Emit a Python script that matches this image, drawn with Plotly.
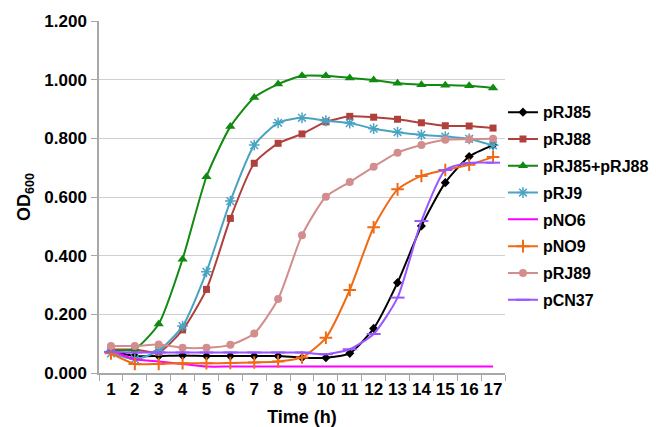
import plotly.graph_objects as go

hours = [str(h) for h in range(1, 18)]

pRJ85 = [0.076, 0.058, 0.058, 0.060, 0.058, 0.058, 0.058, 0.058, 0.052, 0.052, 0.067, 0.152, 0.308, 0.501, 0.649, 0.738, 0.777]
pRJ88 = [0.080, 0.080, 0.070, 0.147, 0.285, 0.527, 0.715, 0.783, 0.815, 0.856, 0.875, 0.872, 0.865, 0.853, 0.843, 0.842, 0.835]
pRJ85_pRJ88 = [0.076, 0.082, 0.167, 0.388, 0.669, 0.840, 0.939, 0.985, 1.013, 1.013, 1.006, 0.999, 0.988, 0.983, 0.981, 0.979, 0.972]
pRJ9 = [0.067, 0.047, 0.076, 0.160, 0.345, 0.586, 0.777, 0.853, 0.870, 0.860, 0.852, 0.833, 0.821, 0.812, 0.806, 0.798, 0.776]
pNO6 = [0.076, 0.047, 0.039, 0.031, 0.022, 0.022, 0.022, 0.022, 0.022, 0.022, 0.022, 0.022, 0.022, 0.022, 0.022, 0.022, 0.022]
pNO9 = [0.067, 0.031, 0.031, 0.033, 0.033, 0.034, 0.036, 0.039, 0.053, 0.120, 0.283, 0.497, 0.626, 0.672, 0.692, 0.710, 0.736]
pRJ89 = [0.092, 0.092, 0.097, 0.086, 0.086, 0.096, 0.135, 0.252, 0.470, 0.601, 0.651, 0.703, 0.751, 0.777, 0.795, 0.797, 0.799]
pCN37 = [0.072, 0.070, 0.070, 0.070, 0.070, 0.070, 0.070, 0.070, 0.070, 0.064, 0.081, 0.133, 0.257, 0.518, 0.692, 0.716, 0.717]

y_ticks = [0.0, 0.2, 0.4, 0.6, 0.8, 1.0, 1.2]

series = [
    ("pRJ85", pRJ85, "#000000", "diamond", 7, 0),
    ("pRJ88", pRJ88, "#B0403C", "square", 7, 0),
    ("pRJ85+pRJ88", pRJ85_pRJ88, "#118A11", "triangle-up", 9, 0),
    ("pRJ9", pRJ9, "#4AA3C2", "asterisk-open", 9, 1.5),
    ("pNO6", pNO6, "#FF00FF", None, 0, 0),
    ("pNO9", pNO9, "#F06A14", "cross-thin-open", 9, 2),
    ("pRJ89", pRJ89, "#D28E8C", "circle", 8, 0),
    ("pCN37", pCN37, "#9955FF", "line-ew-open", 10, 2),
]

fig = go.Figure()
for name, vals, color, sym, size, lw in series:
    if sym is None:
        mode = "lines"
        marker = dict()
    else:
        mode = "lines+markers"
        marker = dict(symbol=sym, size=size, color=color,
                      line=dict(color=color, width=lw))
    fig.add_trace(go.Scatter(
        x=hours, y=vals, name=name, mode=mode, legendgroup=name,
        line=dict(color=color, width=2, shape="spline", smoothing=0.6),
        marker=marker,
    ))

font_family = "Liberation Sans, Arial, sans-serif"
fig.update_layout(
    width=663, height=419,
    margin=dict(l=91, r=166, t=13, b=54),
    paper_bgcolor="white", plot_bgcolor="white",
    font=dict(family=font_family, color="black", size=16, weight="bold"),
    showlegend=True,
    legend=dict(x=0.995, y=0.789, xanchor="left", yanchor="top",
                font=dict(size=16, family=font_family, weight="bold"),
                tracegroupgap=3, itemwidth=30, bgcolor="rgba(0,0,0,0)"),
    xaxis=dict(
        type="category", range=[-0.5, len(hours) - 0.5],
        tickson="boundaries", ticks="outside", ticklen=6,
        tickangle=0, automargin=False,
        tickcolor="#A8A8A8", showline=True, linecolor="#A8A8A8", linewidth=1.5,
        showgrid=False, tickfont=dict(size=17, family=font_family, weight="bold"),
        title=dict(text="Time (h)", font=dict(size=18, family=font_family, weight="bold"), standoff=14),
    ),
    yaxis=dict(
        range=[0, 1.2], tickvals=y_ticks, tickformat=".3f", automargin=False,
        ticks="outside", ticklen=6, tickcolor="#A8A8A8", ticklabelstandoff=1,
        showline=True, linecolor="#A8A8A8", linewidth=1.5,
        showgrid=True, gridcolor="#CFCFCF", gridwidth=1.2, zeroline=False,
        tickfont=dict(size=17, family=font_family, weight="bold"),
        title=dict(text="OD<sub>600</sub>", font=dict(size=18, family=font_family, weight="bold"), standoff=9),
    ),
)

fig.write_html("out.html")
